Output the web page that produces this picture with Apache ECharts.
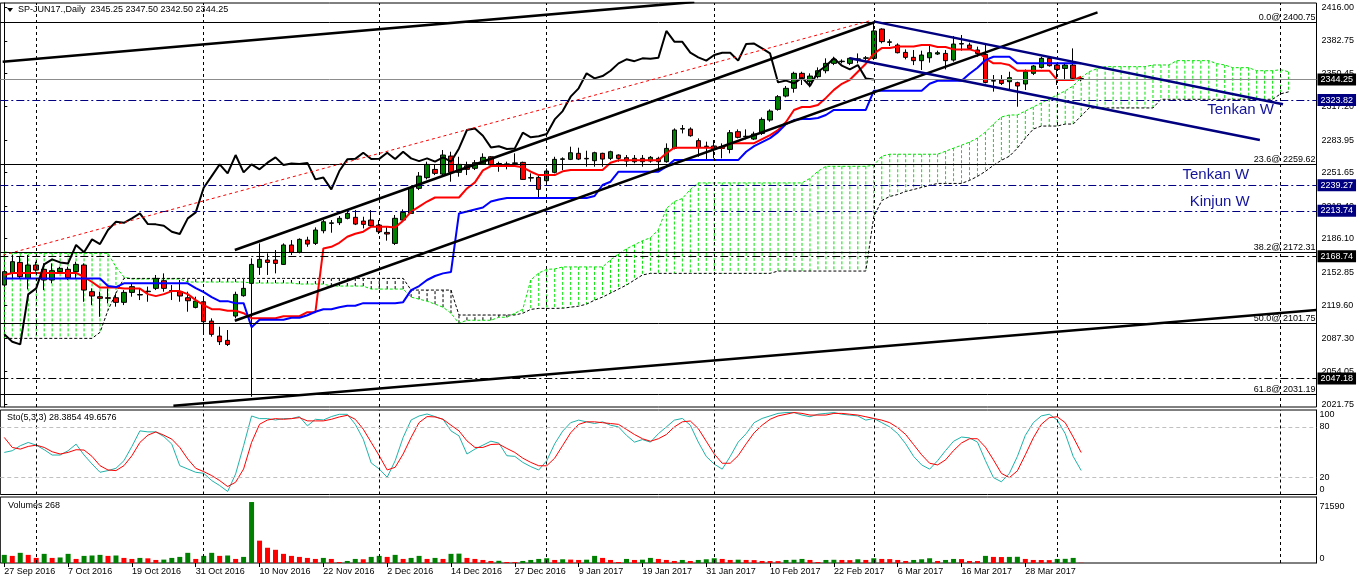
<!DOCTYPE html>
<html><head><meta charset="utf-8">
<script src="https://cdn.jsdelivr.net/npm/echarts@6/dist/echarts.min.js"></script>
<style>html,body{margin:0;padding:0;background:#fff}#c{width:1358px;height:584px}</style>
</head><body><div id="c"></div>
<script>
const FONT = 'Liberation Sans, Arial, sans-serif';
const N_SLOTS = 165; // 136 trading bars + future space for the shifted cloud

const tickLabels = ['27 Sep 2016','7 Oct 2016','19 Oct 2016','31 Oct 2016','10 Nov 2016','22 Nov 2016','2 Dec 2016','14 Dec 2016','27 Dec 2016','9 Jan 2017','19 Jan 2017','31 Jan 2017','10 Feb 2017','22 Feb 2017','6 Mar 2017','16 Mar 2017','28 Mar 2017'];
const monthStartBars = [4,25,47,68,89,109,132,160];
const priceTicks = [2416.00,2382.75,2350.45,2317.20,2283.95,2251.65,2218.40,2186.10,2152.85,2119.60,2087.30,2054.05,2021.75];

const opens = [
2140.0,2151.6,2162.5,2146.6,2159.9,2155.6,2145.0,2153.3,2155.6,2153.3,
2159.9,2133.4,2128.4,2127.4,2127.4,2122.8,2132.7,2130.1,2133.4,2136.7,
2144.3,2134.0,2133.4,2127.4,2117.8,2123.4,2104.2,2089.3,2085.0,2109.2,
2129.4,2141.7,2157.6,2164.9,2164.9,2160.5,2179.8,2172.5,2184.7,2181.4,
2194.0,2201.3,2202.0,2206.3,2207.3,2203.6,2204.6,2199.6,2192.3,2181.4,
2204.6,2211.2,2236.1,2246.7,2254.9,2250.3,2268.2,2252.0,2258.6,2256.0,
2260.3,2267.5,2260.3,2259.9,2260.9,2261.9,2246.3,2247.0,2243.7,2252.0,
2264.9,2264.9,2270.9,2265.9,2263.6,2270.9,2265.9,2269.2,2266.6,2262.6,
2265.9,2263.2,2265.9,2262.6,2275.8,2295.0,2295.0,2283.5,2277.5,2278.2,
2277.5,2274.8,2292.4,2287.4,2285.1,2290.7,2304.0,2314.6,2327.8,2335.5,
2350.4,2342.1,2347.1,2353.0,2360.3,2362.0,2360.3,2364.3,2365.3,2365.3,
2394.4,2381.2,2378.5,2371.2,2366.3,2363.0,2365.9,2369.6,2370.2,2363.6,
2379.5,2378.5,2373.6,2369.2,2342.7,2343.7,2342.1,2341.1,2339.8,2350.4,
2356.3,2365.3,2358.6,2355.3,2358.6,2345.25];
const highs = [
2155.0,2169.8,2168.2,2169.8,2163.2,2161.5,2161.5,2158.2,2158.2,2163.2,
2161.5,2136.7,2133.4,2136.7,2131.7,2135.0,2141.7,2136.7,2138.4,2150.0,
2151.6,2140.0,2145.0,2133.4,2128.4,2128.4,2106.9,2098.6,2095.3,2133.4,
2143.3,2166.5,2181.4,2171.5,2174.8,2181.4,2184.7,2186.4,2188.0,2197.3,
2204.6,2204.6,2208.6,2214.5,2214.5,2207.9,2214.5,2204.6,2198.0,2209.6,
2215.2,2238.4,2252.3,2262.6,2259.3,2274.2,2272.5,2267.5,2262.6,2264.2,
2270.9,2268.2,2262.6,2262.6,2270.9,2262.6,2251.0,2249.3,2256.0,2267.5,
2266.9,2277.5,2276.5,2273.5,2272.5,2271.5,2273.5,2269.9,2269.2,2269.2,
2269.2,2268.2,2267.5,2280.8,2295.7,2299.0,2296.7,2285.8,2282.5,2284.1,
2280.8,2294.1,2294.7,2294.7,2292.4,2306.6,2314.6,2328.8,2337.8,2352.0,
2352.0,2350.4,2356.3,2365.3,2366.9,2364.3,2366.3,2370.2,2367.6,2400.75,
2395.1,2384.2,2380.2,2374.2,2373.6,2372.9,2379.5,2372.9,2373.6,2387.5,
2388.5,2380.9,2376.9,2380.2,2348.7,2348.7,2352.0,2342.1,2354.3,2358.6,
2366.9,2366.9,2360.3,2360.3,2375.2,2347.50];
const lows = [
2138.4,2146.6,2146.6,2135.7,2153.3,2135.0,2141.7,2151.6,2145.0,2146.6,
2123.4,2120.1,2108.5,2121.8,2118.5,2120.1,2128.4,2125.1,2123.4,2135.0,
2133.4,2125.1,2123.4,2113.5,2116.8,2092.0,2088.7,2080.4,2079.4,2106.9,
2128.4,2029.0,2150.0,2150.0,2151.6,2159.9,2169.8,2171.5,2178.0,2179.8,
2191.4,2192.0,2199.6,2205.3,2199.6,2196.3,2198.0,2190.7,2184.1,2179.8,
2203.0,2210.6,2234.4,2245.0,2249.3,2248.3,2242.7,2247.7,2249.3,2254.3,
2259.3,2258.3,2252.6,2255.0,2259.3,2244.4,2242.7,2227.1,2239.4,2251.0,
2254.3,2264.2,2264.2,2257.6,2257.6,2257.6,2264.2,2262.6,2257.6,2260.9,
2257.6,2261.6,2252.6,2261.6,2274.8,2290.7,2287.4,2267.5,2264.2,2265.9,
2265.9,2270.9,2285.8,2284.8,2284.1,2289.1,2302.3,2313.3,2326.5,2331.2,
2338.8,2336.5,2345.4,2350.4,2358.6,2360.3,2358.6,2360.3,2363.6,2363.6,
2380.2,2377.5,2370.2,2364.3,2358.6,2353.7,2361.0,2368.6,2354.3,2362.0,
2372.9,2373.6,2366.9,2340.4,2332.2,2338.8,2333.8,2317.2,2333.8,2348.7,
2355.3,2357.0,2338.8,2343.7,2343.7,2342.50];
const closes = [
2153.3,2163.2,2148.3,2159.9,2154.9,2145.0,2154.3,2156.6,2147.3,2160.5,
2135.0,2129.1,2126.8,2126.8,2122.8,2132.7,2138.4,2130.6,2133.9,2146.6,
2136.7,2134.5,2129.1,2124.4,2124.1,2103.6,2091.0,2083.7,2081.0,2130.7,
2136.7,2160.5,2165.5,2162.5,2161.5,2179.8,2172.5,2185.4,2180.7,2194.7,
2202.9,2201.8,2206.3,2211.2,2200.6,2200.3,2199.0,2193.0,2190.7,2206.3,
2212.2,2236.7,2248.3,2259.9,2251.0,2269.2,2252.0,2259.9,2255.0,2261.6,
2266.9,2259.3,2260.8,2260.4,2261.4,2245.0,2246.8,2235.1,2253.3,2264.9,
2265.4,2271.5,2265.2,2265.4,2271.5,2265.2,2272.5,2265.9,2263.2,2265.9,
2262.6,2266.9,2262.6,2275.8,2294.1,2295.5,2288.4,2276.8,2278.0,2275.2,
2275.8,2291.4,2286.8,2287.9,2290.1,2304.6,2312.9,2327.2,2335.5,2350.4,
2345.4,2347.7,2353.0,2360.3,2364.3,2362.5,2365.3,2364.8,2365.8,2392.5,
2381.9,2381.7,2370.9,2366.3,2363.0,2368.6,2370.9,2370.9,2363.0,2379.5,
2380.0,2375.2,2370.2,2341.4,2343.2,2340.4,2346.1,2337.8,2352.0,2357.7,
2365.3,2358.0,2354.3,2358.6,2345.4,2344.25];

const tenkan = [
2150,2152,2152,2152,2152,2152,2152,2152,2152,2152,
2148,2143,2137.5,2137.5,2137.5,2136.5,2136.5,2136.5,2131,2129,
2131,2134,2134,2131,2125,2120,2116,2116,2114.5,2114.5,
2112,2107,2107,2107,2107,2109,2109,2109,2113,2113,
2176.4,2178,2182,2188,2191,2193,2198,2198,2198,2197.3,
2204,2213,2218,2223,2227,2227,2227,2227,2236,2242,
2254,2258.3,2258.3,2258.3,2258.3,2257,2252.6,2249.3,2249.3,2249.3,
2253,2254.3,2254.3,2254.3,2254.3,2254.3,2261.6,2264,2264,2264,
2264,2264,2264,2271,2276.5,2276.5,2276.5,2276.5,2276.5,2276.5,
2276.5,2280.8,2280.8,2280.8,2281,2285,2289,2294,2302,2314,
2317,2317,2319,2326,2334,2340,2344,2352,2360,2370,
2375.5,2375.5,2377,2377,2377,2378.5,2378.5,2376.5,2376.5,2374.2,
2374.2,2374.2,2372,2365.3,2360.3,2360.3,2358.6,2353,2353,2353,
2353,2353,2343.7,2343.7,2343.7,2347];
const kijun = [
2146.6,2146.6,2146.6,2146.6,2146.6,2146.6,2146.6,2146.6,2146.6,2146.6,
2146.6,2146.6,2146.6,2139,2138,2141.7,2141.7,2141.7,2141.7,2141.7,
2141.7,2141.7,2141.7,2141.7,2137,2133,2128,2124,2124,2122,
2122,2098,2105.5,2105.5,2105.5,2105.5,2107.5,2107.5,2110,2113.5,
2116,2116,2118,2119.5,2119.5,2122,2122,2122,2122,2122,
2123,2135,2139,2145,2149,2151.6,2153,2211.2,2213,2215,
2217,2223,2225,2226.5,2226.5,2226.5,2226.5,2226.5,2226.5,2226.5,
2226.5,2226.5,2226.5,2226.5,2228.5,2239.4,2242.7,2252.6,2252.6,2252.6,
2252.6,2252.6,2252.6,2257.6,2264.2,2264.2,2264.2,2264.2,2264.2,2264.2,
2264.2,2264.2,2264.2,2272.5,2278,2282,2286,2292,2300,2304,
2305,2305,2306,2309,2314,2314,2314,2314,2314,2333,
2333,2333,2333,2333,2333,2333,2340,2343,2343,2343,
2343,2350,2356,2363.6,2366.9,2366.9,2366.9,2360.3,2360.3,2360.3,
2360.3,2360.3,2360.3,2360.3,2360.3,2360.3];
const spanA = [
2173,2171.5,2171.5,2171.5,2171.5,2171.5,2171.5,2171.5,2171.5,2171.5,
2171.5,2171.5,2171.5,2171.5,2158,2148,2146,2146,2146,2146,
2146,2146,2146,2143,2143,2143,2143,2143,2143,2143,
2143,2142,2142,2142,2142,2142,2142,2141,2141,2141,
2141,2139,2139,2139,2139,2139,2136,2136,2136,2136,
2136,2128,2126,2124,2121,2118,2112,2102,2105,2105,
2105,2105,2108,2108,2112,2116,2145,2152,2155.6,2156,
2158,2158,2158,2158,2158,2158,2165,2171,2176,2180,
2184,2187,2195,2216,2223,2226,2235,2241.5,2241.5,2241.5,
2241.5,2241.5,2241.5,2241.5,2241.5,2241.5,2241.5,2241.5,2241.5,2241.5,
2241.5,2246,2253,2258,2258,2258,2258,2258,2258,2259,
2268,2270,2270,2270,2270,2270,2270,2270,2273,2276,
2279,2282,2286,2292,2300,2307,2309,2309,2313,2317,
2321,2325,2329,2333,2338,2346,2352,2355,2357,2357,
2357,2357,2357,2357,2358.7,2358.7,2358.7,2363,2363,2363,
2363,2363,2360,2358.7,2356,2356,2356,2353,2353,2353,
2354,2352];
const spanB = [
2087,2087,2087,2087,2087,2087,2087,2087,2087,2087,
2087,2087,2093,2115,2132,2146.6,2146.6,2146.6,2146.6,2146.6,
2146.6,2146.6,2146.6,2146.6,2146.6,2146.6,2146.6,2146.6,2146.6,2146.6,
2146.6,2146.6,2146.6,2146.6,2146.6,2146.6,2146.6,2146.6,2146.6,2146.6,
2146.6,2146.6,2146.6,2146.6,2146.6,2146.6,2146.6,2146.6,2146.6,2146.6,
2146.6,2135,2135,2135,2135,2135,2135,2110.2,2110.2,2110.2,
2110.2,2110.2,2110.2,2110.2,2110.2,2112,2115.8,2116.8,2116.8,2116.8,
2117,2118,2119,2121,2125,2128,2132,2136,2140,2145,
2150,2151.6,2151.6,2151.6,2151.6,2151.6,2151.6,2151.6,2151.6,2151.6,
2151.6,2151.6,2151.6,2151.6,2151.6,2151.6,2151.6,2153.9,2153.9,2153.9,
2153.9,2153.9,2153.9,2153.9,2153.9,2153.9,2153.9,2153.9,2153.9,2208,
2224,2228,2230,2233,2235,2237,2239,2241,2241,2241,
2241,2244,2248,2253,2259,2264,2268,2276,2286,2295,
2298,2298,2298,2300,2300,2308,2316,2316,2316,2316,
2316,2316,2316,2316,2316,2324.6,2324.6,2324.6,2324.6,2324.6,
2324.6,2324.6,2324.6,2324.6,2324.6,2324.6,2324.6,2324.6,2324.6,2324.6,
2330,2332];

const stochMain = [
49.8,51.8,57.7,61.6,58.4,53.0,46.7,46.7,51.8,59.6,
46.7,36.1,26.3,28.3,31.0,40.0,56.9,75.3,74.1,74.1,
68.6,59.6,34.1,30.2,26.3,25.1,16.5,10.6,3.6,24.3,
57.7,92.9,89.8,89.8,88.2,89.8,89.8,92.2,81.2,89.0,
88.2,92.2,94.9,94.9,83.1,65.5,37.3,30.2,20.4,40.0,
67.5,88.2,92.9,95.3,92.2,89.0,75.3,69.4,47.9,53.7,
58.4,63.1,60.8,45.9,45.1,38,33,29,40,60,
75,85,88,86,84,86,82,80,70,62,
65,62,72,80,88,90,82,62,45,36,
30,45,62,72,85,90,93,96,97,97,
94,92,95,96,97,95,94,93,88,90,
85,80,72,60,45,35,30,40,52,63,
68,67,62,40,20,15,25,45,70,85,
93,95,88,72,45,28.3854];
const stochSignal = [
67.5,55.7,53.7,56.9,58.4,55.7,50.6,47.9,49.8,53.0,
52.6,45.1,34.1,29.0,28.3,34.1,45.9,61.6,70.2,74.1,
70.2,65.5,55.7,42.0,31.0,27.1,22.4,16.5,9.4,14.5,
30.2,61.6,83.1,88.2,89.8,89.0,89.8,91.0,87.1,87.1,
87.1,89.0,91.8,93.7,89.0,77.3,61.6,45.9,29.0,32.2,
47.9,67.5,85.1,92.2,91.8,89.0,82.0,75.3,63.5,55.7,
55.7,59.2,59.6,54.5,49.8,43,38,34,34,43,
58,73,83,86,86,85,84,83,77,71,
66,63,66,71,80,86,87,78,63,48,
37,37,46,60,73,82,89,93,95,97,
96,94,94,94,96,96,95,94,92,90,
88,85,79,71,59,47,37,35,41,52,
61,66,66,56,41,25,20,28,47,67,
83,91,92,85,68,49.6576];
const volumes = [
9545,8352,11932,9545,5966,10739,5966,6500,10739,4773,
8352,8800,9545,8352,8800,5966,4773,5966,5500,3580,
4000,5966,7159,11932,4773,8352,11932,8352,8800,4773,
7159,71590,26250,17898,15511,10739,8352,7159,5966,4773,
5966,4773,1193,2386,4773,4400,7159,8352,7159,9545,
4773,5966,8352,4773,5966,4773,10739,11000,5966,4773,
3580,2386,2600,1193,1000,2386,3580,4773,5568,3580,
4375,4000,3580,3900,8352,5966,3580,1193,4773,3580,
3900,5966,4773,3580,2386,3580,2386,3580,4375,5568,
4773,3580,3900,3580,3400,2386,2300,2200,3580,3800,
4773,3580,1193,3580,3800,3580,3400,4375,3580,5568,
4773,4600,3580,2386,3580,4375,5568,2386,3580,4773,
4600,2386,2300,8352,7159,7000,7159,7300,4773,3580,
3500,3400,4773,4900,5966,268];

// drawn objects, in [bar index, price]
const trendTop = [[-0.2, 2361.9], [86.5, 2421.4]];
const trendBottom = [[21.2, 2020.0], [164.5, 2115.2]];
const channelLow = [[28.9, 2104.5], [137.05, 2411.0]];
const channelHigh = [[28.9, 2174.8], [109.1, 2401.2]];
const wedgeUpper = [[109.1, 2401.8], [160.3, 2319.6]];
const wedgeLower = [[106.0, 2365.3], [157.4, 2284.1]];
const redDotted = [[-0.13, 2169.8], [108.5, 2402.6]];
const fibLevels = [['0.0', 2400.75], ['23.6', 2259.62], ['38.2', 2172.31], ['50.0', 2101.75], ['61.8', 2031.19]];
const hLevels = [
  {v: 2344.25, line: '#8c8c8c', dash: 'solid', tag: '#000000'},
  {v: 2323.82, line: '#000080', dash: [8,3,2,3], tag: '#000080'},
  {v: 2239.27, line: '#000080', dash: [8,3,2,3], tag: '#000080'},
  {v: 2213.74, line: '#000080', dash: [8,3,2,3], tag: '#000080'},
  {v: 2168.74, line: '#000000', dash: [8,3,2,3], tag: '#000000'},
  {v: 2047.18, line: '#000000', dash: [8,3,2,3], tag: '#000000'}
];
const notes = [
  {text: 'Tenkan W', at: [150.8, 2314.4]},
  {text: 'Tenkan W', at: [147.7, 2249.3]},
  {text: 'Kinjun W', at: [148.6, 2223.0]}
];

const slots = [];
for (let i = 0; i < N_SLOTS; i++) slots.push(String(i));
const candleData = opens.map((o, i) => [o, closes[i], lows[i], highs[i]]);
const chikou = closes.slice(26);
const cloudData = spanA.map((a, i) => [i, a, spanB[i]]);
const volData = volumes.map((v, i) => ({
  value: v,
  itemStyle: {color: (i === 0 || v > volumes[i - 1]) ? '#008000' : '#ff0000'}
}));
const showTick = (idx) => idx % 8 === 0 && idx / 8 < tickLabels.length;

const monthLines = monthStartBars.map(b => ({xAxis: b, lineStyle: {type: [3, 3], color: '#000', width: 1}, label: {show: false}}));
const levelItems = hLevels.map(L => ({
  yAxis: L.v,
  lineStyle: {color: L.line, type: L.dash, width: 1},
  label: {show: true, position: 'end', distance: 1, formatter: L.v.toFixed(2), backgroundColor: L.tag,
    color: '#fff', padding: [2, 3, 1, 3], fontSize: 9, fontFamily: FONT}
}));
const fibItems = fibLevels.map(([n, v]) => ({
  yAxis: v,
  lineStyle: {color: '#000', type: 'solid', width: 1},
  label: {show: true, position: 'insideEndTop', distance: 1, formatter: n + '@ ' + v.toFixed(2),
    color: '#000', fontSize: 9, fontFamily: FONT}
}));

const hiddenCat = (g) => ({type: 'category', gridIndex: g, data: slots, axisLine: {show: false},
  axisTick: {show: false}, axisLabel: {show: false}, splitLine: {show: false}});
const gridBase = {left: 0.3, right: 41.5, show: true, borderColor: '#000', borderWidth: 1, backgroundColor: '#fff'};
const trend = (data, color, width, dash, extra) => Object.assign({
  type: 'line', xAxisIndex: 3, yAxisIndex: 0, data: data, symbol: 'none', silent: true, clip: true, z: 6,
  lineStyle: {color: color, width: width, type: dash || 'solid'}
}, extra || {});

const option = {
  animation: false,
  backgroundColor: '#fff',
  textStyle: {fontFamily: FONT},
  grid: [
    Object.assign({top: 3, height: 404}, gridBase),
    Object.assign({top: 410, height: 84.5}, gridBase),
    Object.assign({top: 497, height: 66}, gridBase)
  ],
  xAxis: [
    hiddenCat(0),
    hiddenCat(1),
    {type: 'category', gridIndex: 2, data: slots, axisLine: {show: false},
      axisTick: {show: true, interval: showTick, alignWithLabel: true, length: 4, inside: false, lineStyle: {color: '#000'}},
      axisLabel: {show: true, interval: showTick, formatter: (v, idx) => tickLabels[idx / 8], align: 'left',
        fontSize: 9, color: '#000', margin: 4, fontFamily: FONT},
      splitLine: {show: false}},
    {type: 'value', gridIndex: 0, min: -0.5, max: N_SLOTS - 0.5, show: false}
  ],
  yAxis: [
    {type: 'value', gridIndex: 0, position: 'right', min: 2018.8, max: 2420.3, scale: true,
      axisLine: {show: true, lineStyle: {color: '#000'}},
      axisTick: {show: true, customValues: priceTicks, length: 3, lineStyle: {color: '#000'}},
      axisLabel: {customValues: priceTicks, formatter: v => v.toFixed(2), fontSize: 9, color: '#000', margin: 5, fontFamily: FONT},
      splitLine: {show: false}},
    {type: 'value', gridIndex: 1, position: 'right', min: 0, max: 100,
      axisLine: {show: true, lineStyle: {color: '#000'}}, axisTick: {show: false},
      axisLabel: {customValues: [0, 20, 80, 100], verticalAlignMinLabel: 'bottom', verticalAlignMaxLabel: 'top',
        fontSize: 9, color: '#000', margin: 3, fontFamily: FONT},
      splitLine: {show: false}},
    {type: 'value', gridIndex: 2, position: 'right', min: 0, max: 77500,
      axisLine: {show: true, lineStyle: {color: '#000'}}, axisTick: {show: false},
      axisLabel: {customValues: [0, 71590], verticalAlignMinLabel: 'bottom', verticalAlignMaxLabel: 'top',
        fontSize: 9, color: '#000', margin: 3, fontFamily: FONT, formatter: v => String(v)},
      splitLine: {show: false}}
  ],
  series: [
    {type: 'custom', name: 'kumo', xAxisIndex: 0, yAxisIndex: 0, data: cloudData, clip: true, silent: true, z: 1,
      encode: {x: 0, y: [1, 2]},
      renderItem: (params, api) => {
        const i = api.value(0), a = api.value(1), b = api.value(2);
        const p1 = api.coord([i, a]), p2 = api.coord([i, b]);
        return {type: 'line', shape: {x1: p1[0], y1: p1[1], x2: p2[0], y2: p2[1]},
          style: {stroke: a >= b ? '#00e600' : '#000', lineWidth: 1, lineDash: [3, 2]}};
      }},
    {type: 'line', name: 'spanA', xAxisIndex: 0, yAxisIndex: 0, data: spanA, symbol: 'none', silent: true, z: 2,
      lineStyle: {color: '#00e600', width: 1, type: [3, 2]}},
    {type: 'line', name: 'spanB', xAxisIndex: 0, yAxisIndex: 0, data: spanB, symbol: 'none', silent: true, z: 2,
      lineStyle: {color: '#000', width: 1, type: [3, 2]}},
    {type: 'candlestick', name: 'price', xAxisIndex: 0, yAxisIndex: 0, data: candleData, barWidth: 5, z: 3,
      itemStyle: {color: '#008000', color0: '#ff0000', borderColor: '#000', borderColor0: '#000', borderWidth: 1},
      markLine: {symbol: ['none', 'none'], silent: true, animation: false, precision: 2,
        data: monthLines.concat(fibItems, levelItems)}},
    {type: 'line', name: 'tenkan', xAxisIndex: 0, yAxisIndex: 0, data: tenkan, symbol: 'none', silent: true, z: 4,
      lineStyle: {color: '#ff0000', width: 2}},
    {type: 'line', name: 'kijun', xAxisIndex: 0, yAxisIndex: 0, data: kijun, symbol: 'none', silent: true, z: 4,
      lineStyle: {color: '#0000ff', width: 2}},
    {type: 'line', name: 'chikou', xAxisIndex: 0, yAxisIndex: 0, data: chikou, symbol: 'none', silent: true, z: 4,
      lineStyle: {color: '#000', width: 2}},
    trend(trendTop, '#000', 2.5),
    trend(trendBottom, '#000', 2.5),
    trend(channelLow, '#000', 2.5),
    trend(channelHigh, '#000', 2.5),
    trend(redDotted, '#ff0000', 1, [3, 3]),
    trend(wedgeLower, '#000080', 2.5),
    trend(wedgeUpper, '#000080', 2.5, null, {
      markPoint: {symbol: 'circle', symbolSize: 0, silent: true, animation: false,
        data: notes.map(n => ({coord: n.at, value: 0,
          label: {show: true, position: 'right', distance: 0, formatter: n.text, color: '#14149a', fontSize: 15, fontFamily: FONT}}))}
    }),
    {type: 'line', name: 'sto main', xAxisIndex: 1, yAxisIndex: 1, data: stochMain, symbol: 'none', silent: true,
      lineStyle: {color: '#20b2aa', width: 1},
      markLine: {symbol: ['none', 'none'], silent: true, animation: false,
        data: monthLines.concat([20, 80].map(v => ({yAxis: v, lineStyle: {color: '#c0c0c0', type: [4, 3], width: 1}, label: {show: false}})))}},
    {type: 'line', name: 'sto signal', xAxisIndex: 1, yAxisIndex: 1, data: stochSignal, symbol: 'none', silent: true,
      lineStyle: {color: '#ff0000', width: 1}},
    {type: 'bar', name: 'volume', xAxisIndex: 2, yAxisIndex: 2, data: volData, barWidth: 5, silent: true,
      markLine: {symbol: ['none', 'none'], silent: true, animation: false, data: monthLines}}
  ],
  graphic: [
    {type: 'polygon', shape: {points: [[7, 8], [13, 8], [10, 12]]}, style: {fill: '#000'}, z: 100},
    {type: 'text', left: 18, top: 5, z: 100, style: {text: 'SP-JUN17.,Daily  2345.25 2347.50 2342.50 2344.25', font: '9px ' + FONT, fill: '#000'}},
    {type: 'text', left: 7, top: 413, z: 100, style: {text: 'Sto(5,3,3) 28.3854 49.6576', font: '9px ' + FONT, fill: '#000'}},
    {type: 'text', left: 8, top: 501, z: 100, style: {text: 'Volumes 268', font: '9px ' + FONT, fill: '#000'}}
  ]
};

const chart = echarts.init(document.getElementById('c'), null, {renderer: 'canvas'});
chart.setOption(option);
</script>
</body></html>
